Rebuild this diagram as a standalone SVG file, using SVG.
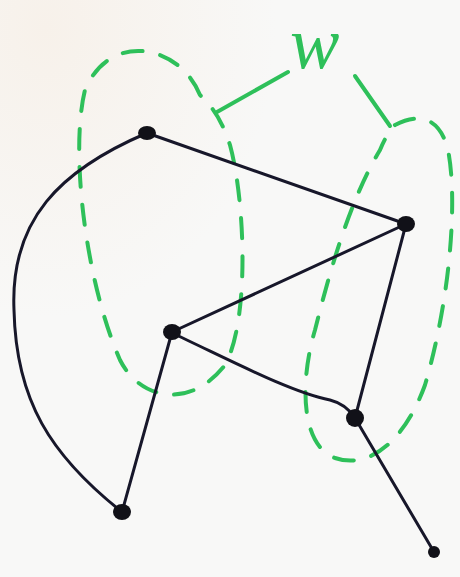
<svg xmlns="http://www.w3.org/2000/svg" width="460" height="577" viewBox="0 0 460 577">
<defs>
<radialGradient id="bg" cx="0.1" cy="0.05" r="0.5">
<stop offset="0" stop-color="#f7f1ea"/>
<stop offset="1" stop-color="#f8f8f7"/>
</radialGradient>
</defs>
<style>
.edge{fill:none;stroke:#17172a;stroke-width:3;stroke-linecap:round}
.node{fill:#111118}
.set{fill:none;stroke:#2ec05a;stroke-width:4;stroke-linecap:round;stroke-dasharray:20 18}
.tie{fill:none;stroke:#2ec05a;stroke-width:4;stroke-linecap:round}
.lbl{font-family:"Liberation Serif",serif;font-style:italic;fill:#2ec05a}
</style>
<rect width="460" height="577" fill="url(#bg)"/>
<g id="sets">
<path id="set-left" class="set" d="M200,95 C180,45 110,30 85,90 C70,150 85,280 120,360 C140,400 190,410 225,365 C250,320 245,200 230,145 C220,115 210,105 200,95 Z"/>
<path id="set-right" class="set" d="M395,125 C420,112 440,118 448,150 C458,200 450,300 425,385 C405,440 370,470 335,458 C300,445 300,380 315,330 C330,270 350,200 380,150 C385,138 390,130 395,125 Z"/>
</g>
<g id="label-w">
<text class="lbl" x="290" y="68" font-size="74">w</text>
<path class="tie" d="M217,112 L288,72"/>
<path class="tie" d="M355,76 L390,126"/>
</g>
<g id="connectors">
<path class="edge" d="M147,133 L406,224"/>
<path class="edge" d="M406,224 L172,332"/>
<path class="edge" d="M406,224 L355,418"/>
<path class="edge" d="M172,333 C230,360 290,392 330,400 Q346,404 355,418"/>
<path class="edge" d="M172,332 L122,512"/>
<path class="edge" d="M147,133 C60,170 10,220 14,310 C16,400 50,455 122,512"/>
<path class="edge" d="M355,418 L434,552"/>
</g>
<g id="nodes">
<g id="n1"><ellipse class="node" cx="147" cy="133" rx="9" ry="7"/></g>
<g id="n2"><ellipse class="node" cx="406" cy="224" rx="9" ry="8"/></g>
<g id="n3"><ellipse class="node" cx="172" cy="332" rx="9" ry="8"/></g>
<g id="n4"><ellipse class="node" cx="355" cy="418" rx="9" ry="9"/></g>
<g id="n5"><ellipse class="node" cx="122" cy="512" rx="9" ry="8"/></g>
<g id="n6"><ellipse class="node" cx="434" cy="552" rx="6" ry="6"/></g>
</g>
</svg>
